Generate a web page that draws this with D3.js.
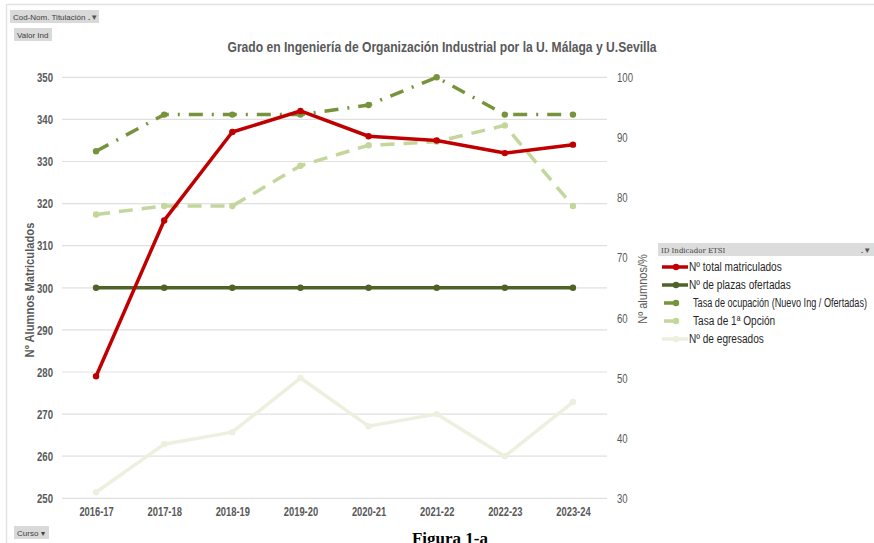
<!DOCTYPE html>
<html>
<head>
<meta charset="utf-8">
<script src="https://cdn.jsdelivr.net/npm/d3@7"></script>
<style>
  body { margin: 0; background: #fff; }
  svg { display: block; }
  .axTxt { font-family: "Liberation Sans", Arial, sans-serif; font-weight: bold; font-size: 12px; fill: #595959; }
  .btn { font-family: "Liberation Sans", Arial, sans-serif; font-size: 8px; fill: #404040; }
</style>
</head>
<body>
<script>
// data
var cursos = ['2016-17', '2017-18', '2018-19', '2019-20', '2020-21', '2021-22', '2022-23', '2023-24'];
var matriculados = [279, 316, 337, 342, 336, 335, 332, 334];      // left axis
var plazas = [65, 65, 65, 65, 65, 65, 65, 65];                    // right axis
var ocupacion = [87.7, 93.8, 93.8, 93.8, 95.4, 100, 93.8, 93.8];  // right axis
var primeraOpcion = [77.2, 78.6, 78.6, 85.3, 88.7, 89.3, 92.0, 78.6];
var egresados = [31, 39, 41, 50, 42, 44, 37, 46];
var leftTicks = [250, 260, 270, 280, 290, 300, 310, 320, 330, 340, 350];
var rightTicks = [30, 40, 50, 60, 70, 80, 90, 100];

var series = [
  {name: 'Nº total matriculados', vals: matriculados, axis: 'L', color: '#c00000', dash: null},
  {name: 'Nº de plazas ofertadas', vals: plazas, axis: 'R', color: '#4f6228', dash: null},
  {name: 'Tasa de ocupación (Nuevo Ing / Ofertadas)', vals: ocupacion, axis: 'R', color: '#77933c', dash: '14,9,2,9'},
  {name: 'Tasa de 1ª Opción', vals: primeraOpcion, axis: 'R', color: '#c3d69b', dash: '14,9'},
  {name: 'Nº de egresados', vals: egresados, axis: 'R', color: '#ebf1de', dash: null}
];
// draw order: back to front
var drawOrder = [4, 3, 2, 1, 0];

var width = 874, height = 543;
var svg = d3.select('body').append('svg')
  .attr('width', width).attr('height', height);

// squeeze text horizontally (the original uses a narrow font)
function narrow(sel, f, maxW){
  sel.each(function(){
    var w = this.getComputedTextLength() * f;
    if (maxW && w > maxW) w = maxW;
    d3.select(this).attr('textLength', w).attr('lengthAdjust', 'spacingAndGlyphs');
  });
}

// frame lines
svg.append('line').attr('x1', 7).attr('x2', width).attr('y1', 4.5).attr('y2', 4.5)
  .attr('stroke', '#e3e3e3').attr('stroke-width', 1.5);
svg.append('line').attr('x1', 6.5).attr('x2', 6.5).attr('y1', 4).attr('y2', height)
  .attr('stroke', '#e3e3e3').attr('stroke-width', 1.5);

var plotL = 62, plotR = 607, plotT = 77.3, plotB = 498.3;

var x = d3.scalePoint().domain(cursos).range([plotL, plotR]).padding(0.5);
var yL = d3.scaleLinear().domain([250, 350]).range([plotB, plotT]);
var yR = d3.scaleLinear().domain([30, 100]).range([plotB, plotT]);

// gridlines
svg.append('g').selectAll('line').data(leftTicks).enter().append('line')
  .attr('x1', plotL).attr('x2', plotR)
  .attr('y1', function(d){ return yL(d); }).attr('y2', function(d){ return yL(d); })
  .attr('stroke', '#e0e0e0').attr('stroke-width', 1.2);

// left axis
var axL = svg.append('g').attr('transform', 'translate(' + 53 + ',0)')
  .call(d3.axisLeft(yL).tickValues(leftTicks).tickSize(0).tickPadding(0));
axL.select('.domain').remove();
axL.selectAll('text').attr('class', 'axTxt').attr('dy', '0.35em').call(narrow, 0.8);

// right axis
var axR = svg.append('g').attr('transform', 'translate(' + 617 + ',0)')
  .call(d3.axisRight(yR).tickValues(rightTicks).tickSize(0).tickPadding(0));
axR.select('.domain').remove();
axR.selectAll('text').attr('class', 'axTxt').style('font-weight', 'normal').attr('dy', '0.35em').call(narrow, 0.8);

// x axis
var axX = svg.append('g').attr('transform', 'translate(0,' + 507 + ')')
  .call(d3.axisBottom(x).tickSize(0).tickPadding(0));
axX.select('.domain').remove();
axX.selectAll('text').attr('class', 'axTxt').attr('dy', '0.71em').call(narrow, 0.78);

// axis titles
svg.append('text').attr('class', 'axTxt')
  .attr('transform', 'translate(34,290) rotate(-90)')
  .attr('text-anchor', 'middle').style('font-size', '13px')
  .text('Nº Alumnos Matriculados').call(narrow, 0.86);
svg.append('text').attr('class', 'axTxt')
  .attr('transform', 'translate(647,289) rotate(-90)')
  .attr('text-anchor', 'middle').style('font-weight', 'normal').style('font-size', '12px')
  .text('Nº alumnos/%').call(narrow, 0.92);

// title
svg.append('text').attr('class', 'axTxt')
  .attr('x', 442).attr('y', 52).attr('text-anchor', 'middle')
  .style('font-size', '15px')
  .attr('textLength', 429).attr('lengthAdjust', 'spacingAndGlyphs')
  .text('Grado en Ingeniería de Organización Industrial por la U. Málaga y U.Sevilla');

// lines
drawOrder.forEach(function(i){
  var s = series[i];
  var yS = s.axis == 'L' ? yL : yR;
  var line = d3.line()
    .x(function(d, j){ return x(cursos[j]); })
    .y(function(d){ return yS(d); });
  var g = svg.append('g');
  g.append('path').datum(s.vals)
    .attr('d', line)
    .attr('fill', 'none')
    .attr('stroke', s.color)
    .attr('stroke-width', 3.5)
    .attr('stroke-linejoin', 'round')
    .attr('stroke-dasharray', s.dash);
  g.selectAll('circle').data(s.vals).enter().append('circle')
    .attr('cx', function(d, j){ return x(cursos[j]); })
    .attr('cy', function(d){ return yS(d); })
    .attr('r', 3.2)
    .attr('fill', s.color);
});

// legend
var lg = svg.append('g').attr('transform', 'translate(658,243)');
lg.append('rect').attr('width', 216).attr('height', 13).attr('fill', '#dcdcdc');
lg.append('text').attr('x', 3).attr('y', 9.5)
  .style('font-family', '"DejaVu Serif", "Liberation Serif", serif').style('font-size', '7px').attr('fill', '#404040')
  .text('ID Indicador ETSI');
lg.append('text').attr('x', 203).attr('y', 10)
  .style('font-family', 'Liberation Sans, sans-serif').style('font-size', '8px').style('font-weight', 'bold').attr('fill', '#555')
  .text('.▼');
series.forEach(function(s, i){
  var row = lg.append('g').attr('transform', 'translate(0,' + (24 + i * 18) + ')');
  var full = (i == 0 || i == 1 || i == 4);
  var tx = full ? 31 : 35;
  row.append('line')
    .attr('x1', full ? 4 : 6).attr('x2', full ? 30 : 18)
    .attr('y1', 0).attr('y2', 0)
    .attr('stroke', s.color).attr('stroke-width', 3.5);
  row.append('circle').attr('cx', 18).attr('cy', 0).attr('r', 3.2).attr('fill', s.color);
  row.append('text').attr('x', tx).attr('y', 0).attr('dy', '0.35em')
    .style('font-family', '"Liberation Sans", Arial, sans-serif')
    .style('font-size', '12px').attr('fill', '#262626')
    .text(s.name).call(narrow, 0.84, 209 - tx);
});

// pivot-chart buttons
function button(bx, by, bw, label, icon){
  var b = svg.append('g').attr('transform', 'translate(' + bx + ',' + by + ')');
  b.append('rect').attr('width', bw).attr('height', 13).attr('fill', '#d9d9d9');
  b.append('text').attr('class', 'btn').attr('x', 3).attr('y', 9.5).text(label);
  if (icon) b.append('text').attr('x', bw - 11).attr('y', 10)
    .style('font-family', 'Liberation Sans, sans-serif').style('font-size', '8px').style('font-weight', 'bold').attr('fill', '#555')
    .text(icon);
}
button(10, 10, 89, 'Cod-Nom. Titulación', '.▼');
button(14, 28, 38, 'Valor Ind', null);
button(14, 526, 35, 'Curso ▾', null);

// caption
svg.append('text')
  .attr('x', 450).attr('y', 544).attr('text-anchor', 'middle')
  .style('font-family', '"Liberation Serif", "DejaVu Serif", serif')
  .style('font-size', '17px').style('font-weight', 'bold').attr('fill', '#000')
  .text('Figura 1-a');
</script>
</body>
</html>
